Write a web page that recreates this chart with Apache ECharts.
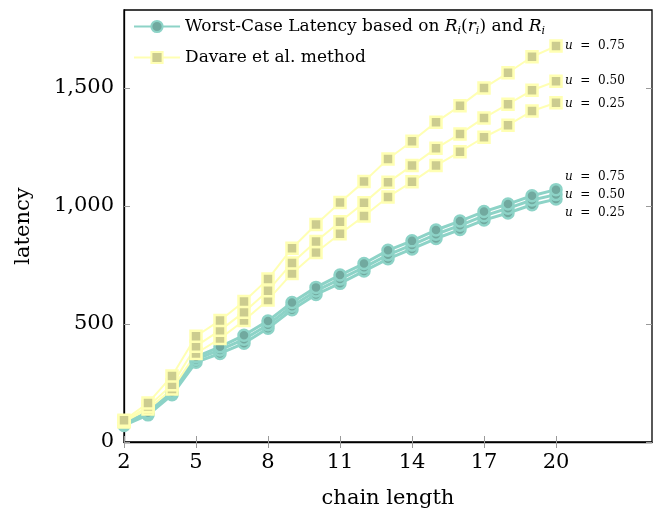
<!DOCTYPE html>
<html>
<head>
<meta charset="utf-8">
<script src="https://cdn.jsdelivr.net/npm/echarts@6/dist/echarts.min.js"></script>
<style>html,body{margin:0;padding:0;background:#fff}#c{width:655px;height:514px}</style>
</head>
<body>
<div id="c"></div>
<script>
var chainLength = [2,3,4,5,6,7,8,9,10,11,12,13,14,15,16,17,18,19,20];
var xTicks = [2,5,8,11,14,17,20];
var yTicks = [0,500,1000,1500];
var utilLabels = ['0.25','0.50','0.75'];

var worst025 = [70,115,200,338,375,418,482,560,625,672,724,776,818,862,900,940,970,1005,1029];
var worst050 = [75,120,205,350,390,435,497,575,640,690,740,793,835,880,918,958,990,1025,1048];
var worst075 = [80,125,212,361,403,452,513,591,655,707,756,812,852,898,936,976,1008,1043,1069];

var davare025 = [85,140,224,375,438,515,602,714,803,882,957,1038,1102,1171,1230,1291,1342,1402,1437];
var davare050 = [88,150,242,406,473,550,641,758,849,933,1013,1100,1171,1244,1305,1373,1431,1490,1528];
var davare075 = [92,165,280,448,515,595,690,821,921,1015,1103,1199,1274,1355,1424,1500,1564,1632,1677];

var NAME_W = 'Worst-Case Latency based on R_i(r_i) and R_i';
var NAME_D = 'Davare et al. method';
var SERIF = 'DejaVu Serif';

function pairs(ys){ return chainLength.map(function(x,i){ return [x, ys[i]]; }); }

var labRich = {
  i: {fontFamily: SERIF, fontStyle: 'italic', fontSize: 12, color: '#000'},
  t: {fontFamily: SERIF, fontSize: 12, color: '#000'}
};

function mk(name, ys, kind, u, dy){
  var teal = kind === 'w';
  return {
    type: 'line', name: name, data: pairs(ys),
    symbol: teal ? 'circle' : 'rect',
    symbolSize: 11,
    lineStyle: {color: teal ? '#8dd3c7' : '#ffffb3', width: teal ? 3 : 2},
    itemStyle: {color: teal ? '#71a99f' : '#cccc8f', borderColor: teal ? '#8dd3c7' : '#ffffb3', borderWidth: 2.5},
    emphasis: {disabled: true},
    animation: false,
    endLabel: {show: true, formatter: '{i|u}{t|  =  ' + u + '}', rich: labRich, distance: 9, offset: [0, dy]}
  };
}

var series = [
  mk(NAME_W, worst025, 'w', utilLabels[0], 14),
  mk(NAME_W, worst050, 'w', utilLabels[1], 0),
  mk(NAME_W, worst075, 'w', utilLabels[2], -13),
  mk(NAME_D, davare025, 'd', utilLabels[0], 1),
  mk(NAME_D, davare050, 'd', utilLabels[1], 0),
  mk(NAME_D, davare075, 'd', utilLabels[2], 0)
];

var tickStyle = {show: true, inside: true, length: 6, lineStyle: {color: '#9a9a9a', width: 1}};

var chart = echarts.init(document.getElementById('c'));
chart.setOption({
  animation: false,
  grid: {left: 124, right: 3, top: 10, bottom: 68, show: true, borderColor: '#000', borderWidth: 1.3, backgroundColor: 'transparent'},
  legend: {
    data: [NAME_W, NAME_D],
    orient: 'vertical', left: 128, top: 13,
    itemWidth: 46, itemHeight: 14, itemGap: 12,
    formatter: function(n){
      if (n === NAME_W) return '{t|Worst-Case Latency based on }{i|R}{s|i}{t|(}{i|r}{s|i}{t|) and }{i|R}{s|i}';
      return '{t|' + n + '}';
    },
    textStyle: {
      fontFamily: SERIF, fontSize: 17, color: '#000',
      rich: {
        t: {fontFamily: SERIF, fontSize: 17, color: '#000'},
        i: {fontFamily: SERIF, fontSize: 17, fontStyle: 'italic', color: '#000'},
        s: {fontFamily: SERIF, fontSize: 11, fontStyle: 'italic', color: '#000', padding: [10, 0, 0, 0]}
      }
    }
  },
  xAxis: [{
    type: 'value', min: 2, max: 24,
    name: 'chain length', nameLocation: 'middle', nameGap: 46,
    nameTextStyle: {fontFamily: SERIF, fontSize: 21, color: '#000'},
    axisLine: {show: true, lineStyle: {color: '#000', width: 1.3}},
    axisTick: Object.assign({customValues: xTicks}, tickStyle),
    axisLabel: {customValues: xTicks, fontFamily: SERIF, fontSize: 21, color: '#000', margin: 10},
    splitLine: {show: false}
  }, {
    type: 'value', min: 2, max: 24, position: 'top',
    axisLine: {show: false},
    axisTick: Object.assign({customValues: xTicks}, tickStyle),
    axisLabel: {show: false, customValues: xTicks},
    splitLine: {show: false}
  }],
  yAxis: [{
    type: 'value', min: 0, max: 1830,
    name: 'latency', nameLocation: 'middle', nameGap: 90,
    nameTextStyle: {fontFamily: SERIF, fontSize: 21, color: '#000'},
    axisLine: {show: true, lineStyle: {color: '#000', width: 1.3}},
    axisTick: Object.assign({customValues: yTicks}, tickStyle),
    axisLabel: {customValues: yTicks, fontFamily: SERIF, fontSize: 21, color: '#000', margin: 10,
      formatter: function(v){ return Number(v).toLocaleString('en-US'); }},
    splitLine: {show: false}
  }, {
    type: 'value', min: 0, max: 1830, position: 'right',
    axisLine: {show: false},
    axisTick: Object.assign({customValues: yTicks}, tickStyle),
    axisLabel: {show: false, customValues: yTicks},
    splitLine: {show: false}
  }],
  series: series
});
</script>
</body>
</html>
